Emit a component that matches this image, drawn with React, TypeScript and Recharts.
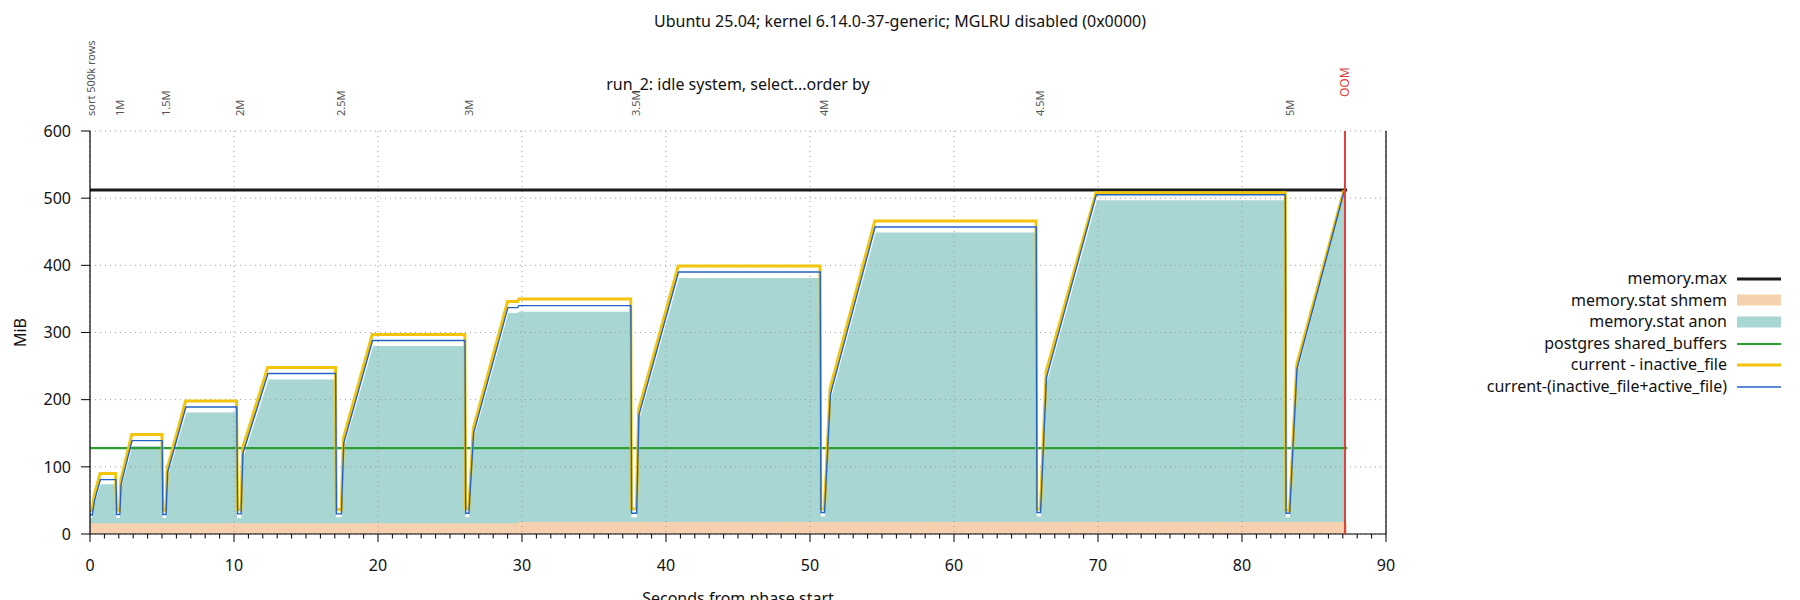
import {
  Area,
  CartesianGrid,
  ComposedChart,
  Line,
  ReferenceLine,
  XAxis,
  YAxis,
} from 'recharts';

const W = 1800;
const H = 600;
const FONT = '"Noto Sans", "DejaVu Sans", sans-serif';

const TITLE = 'Ubuntu 25.04; kernel 6.14.0-37-generic; MGLRU disabled (0x0000)';
const SUBTITLE = 'run_2: idle system, select...order by';

const MEMORY_MAX = 512;
const SHARED_BUFFERS = 128;
const OOM_AT = 87.15;
const RUN_END = 87.3;

const X_MAJOR = [0, 10, 20, 30, 40, 50, 60, 70, 80, 90];
const X_TICKS = Array.from({ length: 91 }, (_, i) => i);
const Y_TICKS = [0, 100, 200, 300, 400, 500, 600];

// phase markers along the top edge (seconds)
const PHASE_NAMES = ['sort 500k rows', '1M', '1.5M', '2M', '2.5M', '3M', '3.5M', '4M', '4.5M', '5M'];
const PHASE_AT = [0.1, 2.05, 5.28, 10.45, 17.45, 26.3, 37.95, 51.0, 66.0, 83.3];

// current - inactive_file
const curT = [0, 0.15, 0.3, 0.7, 1.78, 1.84, 2.06, 2.14, 2.9, 5.0, 5.05, 5.27, 5.37, 6.64, 10.18, 10.24, 10.48, 10.6, 12.34, 17.05, 17.1, 17.45, 17.6, 19.6, 26.03, 26.08, 26.3, 26.62, 29.0, 29.7, 29.78, 37.55, 37.6, 37.95, 38.1, 40.85, 50.7, 50.75, 51.0, 51.4, 54.5, 65.7, 65.75, 66.0, 66.4, 69.86, 83.0, 83.05, 83.3, 83.8, 87.08];
const curV = [36, 35, 58, 90, 90, 36, 35, 80, 148, 148, 36, 35, 98, 198, 198, 37, 36, 128, 248, 248, 37, 36, 143, 297, 297, 38, 37, 157, 346, 346, 350, 350, 38, 37, 185, 399, 399, 38, 37, 217, 466, 466, 38, 37, 242, 508, 508, 36, 35, 252, 512];

// current-(inactive_file+active_file)
const actT = [0, 0.15, 0.32, 0.72, 1.8, 1.85, 2.07, 2.16, 2.92, 5.01, 5.06, 5.28, 5.39, 6.66, 10.19, 10.25, 10.49, 10.62, 12.36, 17.06, 17.11, 17.46, 17.62, 19.62, 26.04, 26.09, 26.31, 26.64, 29.02, 29.7, 29.78, 37.56, 37.61, 37.96, 38.12, 40.87, 50.71, 50.76, 51.01, 51.42, 54.52, 65.71, 65.76, 66.01, 66.42, 69.88, 83.01, 83.06, 83.31, 83.82, 87.1];
const actV = [29, 28, 50, 81, 81, 29, 29, 74, 139, 139, 29, 29, 92, 189, 189, 30, 30, 120, 239, 239, 30, 30, 135, 288, 288, 31, 31, 150, 337, 337, 340, 340, 31, 31, 177, 390, 390, 32, 32, 208, 457, 457, 32, 32, 233, 505, 505, 31, 31, 246, 511];

// memory.stat anon, top edge of the fill
const anonT = [0, 0.15, 0.34, 0.74, 1.78, 1.83, 2.08, 2.18, 2.95, 5.0, 5.05, 5.29, 5.41, 6.7, 10.18, 10.23, 10.5, 10.64, 12.4, 17.05, 17.1, 17.47, 17.64, 19.66, 26.03, 26.08, 26.32, 26.66, 29.05, 29.7, 29.78, 37.55, 37.6, 37.97, 38.14, 40.9, 50.7, 50.75, 51.02, 51.44, 54.56, 65.7, 65.75, 66.02, 66.44, 69.92, 83.0, 83.05, 83.32, 83.84, 87.1, 87.2];
const anonV = [24, 24, 46, 74, 74, 24, 24, 68, 131, 131, 24, 24, 86, 181, 181, 24, 24, 113, 230, 230, 25, 25, 128, 280, 280, 25, 25, 143, 329, 329, 331, 331, 25, 25, 170, 381, 381, 26, 26, 200, 449, 449, 26, 26, 225, 497, 497, 25, 25, 240, 509, 509];

// memory.stat shmem
const shmemT = [0, 29.72, 87.27];
const shmemV = [16, 18, 18];

const BLACK = '#1c1c1c';
const SHMEM_FILL = '#f6d1b0';
const ANON_FILL = '#a8d6d2';
const GREEN = '#2e9e32';
const YELLOW = '#f2c40c';
const BLUE = '#2263c4';
const RED = '#e0403a';

const pts = (ts: number[], vs: number[]) => ts.map((t, i) => ({ t, v: vs[i] }));

const curData = pts(curT, curV);
const actData = pts(actT, actV);
const anonData = pts(anonT, anonV);
const shmemData = pts(shmemT, shmemV);
const maxData = pts([0, RUN_END], [MEMORY_MAX, MEMORY_MAX]);
const bufData = pts([0, RUN_END], [SHARED_BUFFERS, SHARED_BUFFERS]);

const LEGEND = [
  { name: 'memory.max', kind: 'line', color: BLACK, width: 3 },
  { name: 'memory.stat shmem', kind: 'box', color: SHMEM_FILL, width: 0 },
  { name: 'memory.stat anon', kind: 'box', color: ANON_FILL, width: 0 },
  { name: 'postgres shared_buffers', kind: 'line', color: GREEN, width: 2 },
  { name: 'current - inactive_file', kind: 'line', color: YELLOW, width: 3 },
  { name: 'current-(inactive_file+active_file)', kind: 'line', color: BLUE, width: 1.5 },
];

function SecondTick({ x, y, payload }: any) {
  const major = payload.value % 10 === 0;
  return (
    <g>
      <line x1={x} x2={x} y1={y} y2={y + (major ? 8 : 4.5)} stroke="#000" strokeWidth={1} />
      {major && (
        <text x={x} y={y + 37} textAnchor="middle" fontSize={16} fill="#111" fontFamily={FONT}>
          {payload.value}
        </text>
      )}
    </g>
  );
}

function PhaseLabel({ viewBox, text, color = '#555', lift = 15, size = 11 }: any) {
  if (!viewBox) return null;
  const x = viewBox.x + 4;
  const y = viewBox.y - lift;
  return (
    <text transform={`translate(${x},${y}) rotate(-90)`} fontSize={size} fill={color} fontFamily={FONT}>
      {text}
    </text>
  );
}

function LegendBox() {
  return (
    <div style={{ position: 'absolute', left: 1300, top: 268, width: 481, fontFamily: FONT, fontSize: 16, color: '#111' }}>
      {LEGEND.map((item) => (
        <div key={item.name} style={{ height: 21.6, display: 'flex', alignItems: 'center', justifyContent: 'flex-end' }}>
          <span style={{ whiteSpace: 'nowrap', lineHeight: '21.6px' }}>{item.name}</span>
          <svg width={44} height={12} style={{ marginLeft: 10, display: 'block' }}>
            {item.kind === 'box' ? (
              <rect x={0} y={0.5} width={44} height={11} fill={item.color} />
            ) : (
              <line x1={0} x2={44} y1={6} y2={6} stroke={item.color} strokeWidth={item.width} />
            )}
          </svg>
        </div>
      ))}
    </div>
  );
}

export default function App() {
  return (
    <div style={{ position: 'absolute', left: 0, top: 0, width: W, height: H, background: '#fff', fontFamily: FONT }}>
      <div style={{ position: 'absolute', left: 0, top: 10, width: W, lineHeight: '22px', textAlign: 'center', fontSize: 16, color: '#111' }}>
        {TITLE}
      </div>
      <div style={{ position: 'absolute', left: 90, top: 73, width: 1296, lineHeight: '22px', textAlign: 'center', fontSize: 16, color: '#111' }}>
        {SUBTITLE}
      </div>
      <ComposedChart width={W} height={H} margin={{ top: 131, right: 394, bottom: 0, left: 10 }}>
        <XAxis
          dataKey="t"
          type="number"
          domain={[0, 90]}
          ticks={X_TICKS}
          interval={0}
          tickSize={0}
          tickMargin={0}
          tickLine={false}
          tick={<SecondTick />}
          height={66}
          axisLine={{ stroke: '#000', strokeWidth: 1.2 }}
          allowDataOverflow
          label={{ value: 'Seconds from phase start', position: 'insideBottom', offset: -4, fontSize: 16, fill: '#111' }}
        />
        <YAxis
          type="number"
          domain={[0, 600]}
          ticks={Y_TICKS}
          interval={0}
          width={80}
          tickSize={9}
          tickMargin={10}
          tick={{ fontSize: 16, fill: '#111', fontFamily: FONT }}
          tickLine={{ stroke: '#000' }}
          axisLine={{ stroke: '#000', strokeWidth: 1.2 }}
          allowDataOverflow
          label={{ value: 'MiB', angle: -90, position: 'insideLeft', offset: 10, fontSize: 16, fill: '#111', style: { textAnchor: 'middle' } }}
        />
        <YAxis
          yAxisId="right"
          orientation="right"
          type="number"
          domain={[0, 600]}
          ticks={Y_TICKS}
          interval={0}
          width={20}
          tickSize={8}
          tickFormatter={() => ''}
          tickLine={{ stroke: '#000' }}
          axisLine={{ stroke: '#000', strokeWidth: 1.2 }}
        />
        <Area data={anonData} dataKey="v" type="linear" fill={ANON_FILL} fillOpacity={1} stroke="none" isAnimationActive={false} zIndex={100} />
        <Area data={shmemData} dataKey="v" type="stepAfter" fill={SHMEM_FILL} fillOpacity={1} stroke="none" isAnimationActive={false} zIndex={110} />
        <CartesianGrid
          stroke="#9a9a9a"
          strokeDasharray="1 4"
          verticalValues={X_MAJOR}
          horizontalValues={Y_TICKS}
          zIndex={150}
        />
        <Line data={bufData} dataKey="v" type="linear" stroke={GREEN} strokeWidth={2.2} dot={false} activeDot={false} isAnimationActive={false} zIndex={400} />
        <Line data={maxData} dataKey="v" type="linear" stroke={BLACK} strokeWidth={3} dot={false} activeDot={false} isAnimationActive={false} zIndex={410} />
        <Line data={curData} dataKey="v" type="linear" stroke={YELLOW} strokeWidth={3} dot={false} activeDot={false} isAnimationActive={false} zIndex={420} />
        <Line data={actData} dataKey="v" type="linear" stroke={BLUE} strokeWidth={1.4} dot={false} activeDot={false} isAnimationActive={false} zIndex={430} />
        {PHASE_AT.map((t, i) => (
          <ReferenceLine key={PHASE_NAMES[i]} x={t} stroke="none" label={<PhaseLabel text={PHASE_NAMES[i]} />} />
        ))}
        <ReferenceLine
          x={OOM_AT}
          stroke={RED}
          strokeWidth={2}
          zIndex={600}
          label={<PhaseLabel text="OOM" color={RED} lift={34} size={12} />}
        />
      </ComposedChart>
      <LegendBox />
    </div>
  );
}
